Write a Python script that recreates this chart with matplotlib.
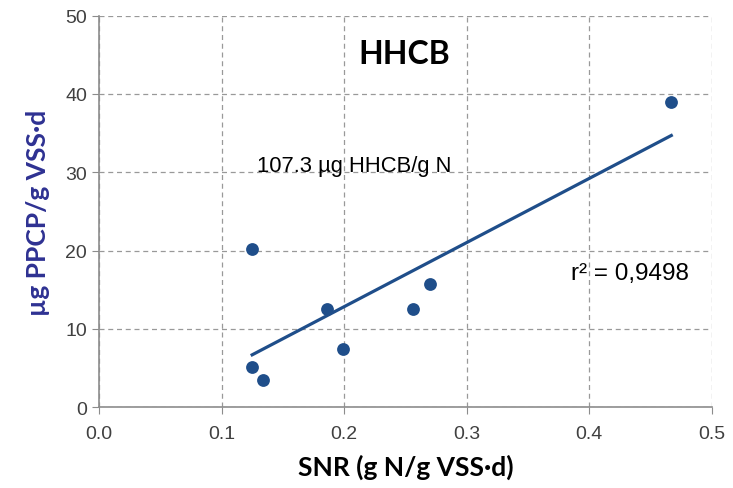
import matplotlib
matplotlib.use("Agg")
import matplotlib.pyplot as plt

# SNR (g N/g VSS·d) and HHCB (µg PPCP/g VSS·d)
snr = [0.125, 0.125, 0.134, 0.186, 0.199, 0.256, 0.270, 0.467]
hhcb = [20.2, 5.2, 3.5, 12.5, 7.5, 12.5, 15.8, 39.0]

# trend line end points
trend_x = [0.125, 0.467]
trend_y = [6.7, 34.7]

x_ticks = [0.0, 0.1, 0.2, 0.3, 0.4, 0.5]
y_ticks = [0, 10, 20, 30, 40, 50]

blue = '#1f4e8a'

fig = plt.figure(figsize=(7.33, 4.89), dpi=100)
ax = fig.add_axes([0.135, 0.165, 0.836, 0.801])

ax.grid(True, linestyle=(0, (4, 3)), color='#999999', linewidth=0.9)
ax.set_axisbelow(True)

ax.plot(trend_x, trend_y, color=blue, linewidth=2.3, zorder=3)
ax.scatter(snr, hhcb, s=85, color=blue, zorder=4, linewidths=0)

ax.set_xlim(0, 0.5)
ax.set_ylim(0, 50)
ax.set_xticks(x_ticks)
ax.set_yticks(y_ticks)
ax.set_xticklabels(['{:.1f}'.format(v) for v in x_ticks])

for side in ['top', 'right']:
    ax.spines[side].set_visible(False)
for side in ['left', 'bottom']:
    ax.spines[side].set_color('#8c8c8c')
    ax.spines[side].set_linewidth(1.2)

ax.tick_params(axis='both', direction='out', length=5, color='#8c8c8c',
               labelsize=14, labelcolor='#404040')
ax.tick_params(axis='x', pad=8)
for lab in ax.get_xticklabels() + ax.get_yticklabels():
    lab.set_family('Liberation Sans')

ax.set_xlabel('SNR (g N/g VSS·d)', fontsize=19, fontweight='bold',
              family='Lato', labelpad=8)
ax.set_ylabel('µg PPCP/g VSS·d', fontsize=19, fontweight='bold',
              family='Lato', color='#2e3192', labelpad=11)

ax.text(0.249, 45.2, 'HHCB', fontsize=23, fontweight='bold', family='Lato',
        ha='center', va='center')
ax.text(0.129, 30.9, '107.3 µg HHCB/g N', fontsize=15.8,
        family='Liberation Sans', ha='left', va='center')
ax.text(0.385, 17.1, 'r² = 0,9498', fontsize=17.5,
        family='Liberation Sans', ha='left', va='center')

fig.savefig('out.png', dpi=100)
